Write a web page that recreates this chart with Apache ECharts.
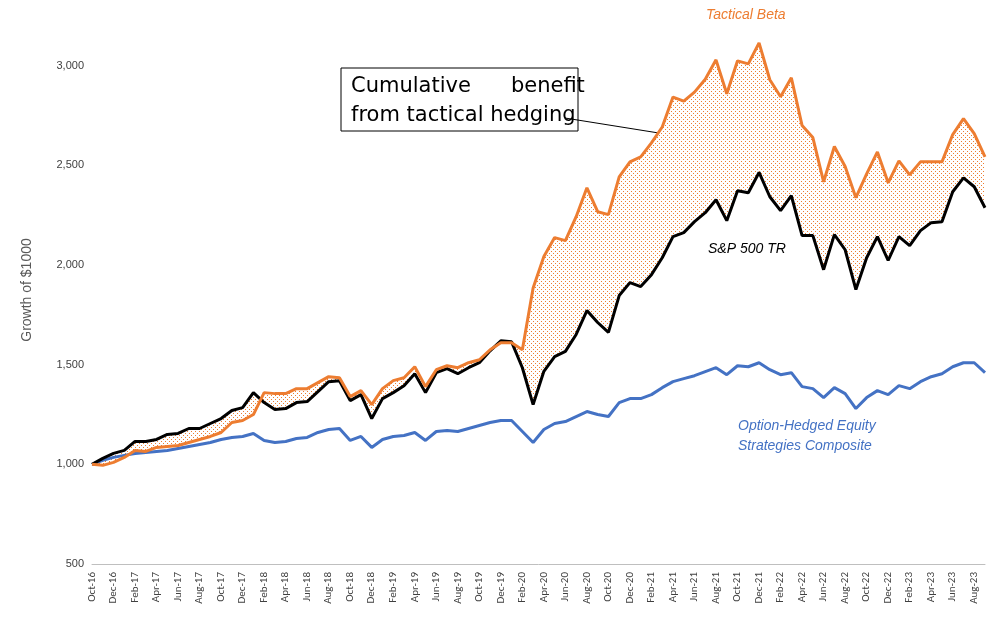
<!DOCTYPE html>
<html><head><meta charset="utf-8">
<script src="https://cdn.jsdelivr.net/npm/echarts@6/dist/echarts.min.js"></script>
<style>html,body{margin:0;padding:0;background:#fff}#c{width:1008px;height:631px}</style>
</head><body><div id="c"></div>
<script>
const months=['Jan','Feb','Mar','Apr','May','Jun','Jul','Aug','Sep','Oct','Nov','Dec'];
const categories=[];
for(let k=0;k<84;k++){const m=(9+k)%12;const y=16+Math.floor((9+k)/12);categories.push(months[m]+'-'+y);}
const sp500=[1000,1030,1055,1070,1115,1115,1125,1150,1155,1180,1180,1205,1230,1270,1285,1360,1310,1275,1280,1310,1315,1365,1415,1420,1320,1350,1230,1330,1360,1395,1455,1360,1460,1480,1455,1485,1510,1570,1620,1615,1485,1300,1467,1541,1567,1652,1772,1712,1662,1847,1912,1892,1952,2037,2143,2163,2218,2263,2328,2223,2373,2363,2465,2343,2273,2348,2148,2148,1977,2153,2077,1877,2037,2143,2023,2143,2098,2173,2213,2218,2368,2438,2393,2288];
const tactical=[1000,995,1010,1035,1070,1065,1085,1090,1095,1110,1125,1140,1160,1210,1220,1250,1360,1355,1355,1380,1380,1410,1440,1435,1340,1370,1300,1380,1420,1435,1490,1390,1475,1495,1485,1510,1525,1575,1610,1610,1575,1885,2043,2138,2123,2243,2388,2268,2253,2443,2518,2543,2613,2693,2843,2823,2868,2933,3030,2860,3025,3010,3115,2930,2845,2940,2700,2640,2418,2595,2495,2338,2458,2568,2413,2523,2453,2518,2518,2518,2655,2735,2660,2543];
const hedged=[1000,1020,1035,1045,1055,1060,1065,1070,1080,1090,1100,1110,1125,1135,1140,1155,1120,1110,1115,1130,1135,1160,1175,1180,1120,1140,1085,1125,1140,1145,1160,1120,1165,1170,1165,1180,1195,1210,1220,1220,1165,1110,1175,1205,1215,1240,1265,1250,1240,1310,1330,1330,1350,1385,1415,1430,1445,1465,1485,1450,1495,1490,1510,1475,1450,1460,1390,1380,1335,1385,1355,1280,1335,1370,1350,1395,1380,1415,1440,1455,1490,1510,1510,1460];
const yTicks=[500,1000,1500,2000,2500,3000];

const diff=tactical.map((v,i)=>v-sp500[i]);
const cv=document.createElement('canvas');cv.width=4;cv.height=4;
const cx=cv.getContext('2d');cx.fillStyle='#fff';cx.fillRect(0,0,4,4);cx.fillStyle='#ED7D31';cx.fillRect(1,1,1,1);cx.fillRect(3,3,1,1);

const chart=echarts.init(document.getElementById('c'));
chart.setOption({
 animation:false,
 grid:{left:92,right:23,top:16,bottom:67},
 xAxis:{type:'category',data:categories,boundaryGap:false,
  axisLine:{lineStyle:{color:'#bfbfbf'}},axisTick:{show:false},
  axisLabel:{interval:1,rotate:90,fontSize:11,color:'#404040',fontFamily:'Calibri, Liberation Sans, sans-serif'}},
 yAxis:{type:'value',min:500,max:3250,interval:500,
  axisLabel:{fontSize:11,color:'#404040',showMaxLabel:false,formatter:v=>yTicks.includes(v)?v.toLocaleString('en-US'):''},
  splitLine:{show:false},axisLine:{show:false},axisTick:{show:false},
  name:'Growth of $1000',nameLocation:'middle',nameGap:58,nameTextStyle:{fontSize:14,color:'#595959'}},
 series:[
  {type:'line',data:sp500,stack:'f',stackStrategy:'all',symbol:'none',lineStyle:{width:0,opacity:0},silent:true},
  {type:'line',data:diff,stack:'f',stackStrategy:'all',symbol:'none',lineStyle:{width:0,opacity:0},areaStyle:{color:{image:cv,repeat:'repeat'},opacity:1},silent:true},
  {type:'line',data:hedged,symbol:'none',lineStyle:{color:'#4472C4',width:3}},
  {type:'line',data:sp500,symbol:'none',lineStyle:{color:'#000',width:3}},
  {type:'line',data:tactical,symbol:'none',lineStyle:{color:'#ED7D31',width:3}}
 ],
 graphic:[
  {type:'rect',shape:{x:341,y:68,width:237,height:63},style:{fill:'#fff',stroke:'#000',lineWidth:1}},
  {type:'text',left:351,top:72,style:{text:'Cumulative      benefit\nfrom tactical hedging',font:'21px "DejaVu Sans"',fill:'#000',lineHeight:29}},
  {type:'line',shape:{x1:565,y1:118,x2:690,y2:138},style:{stroke:'#000',lineWidth:1}},
  {type:'polygon',shape:{points:[[703,140],[689,132],[687,144]]},style:{fill:'#000'}},
  {type:'text',left:706,top:8,style:{text:'Tactical Beta',font:'italic 14px "Liberation Sans"',fill:'#ED7D31'}},
  {type:'text',left:708,top:242,style:{text:'S&P 500 TR',font:'italic 14px "Liberation Sans"',fill:'#000'}},
  {type:'text',left:738,top:416,style:{text:'Option-Hedged Equity\nStrategies Composite',align:'center',font:'italic 14px "Liberation Sans"',fill:'#4472C4',lineHeight:20}}
 ]
});
</script></body></html>
